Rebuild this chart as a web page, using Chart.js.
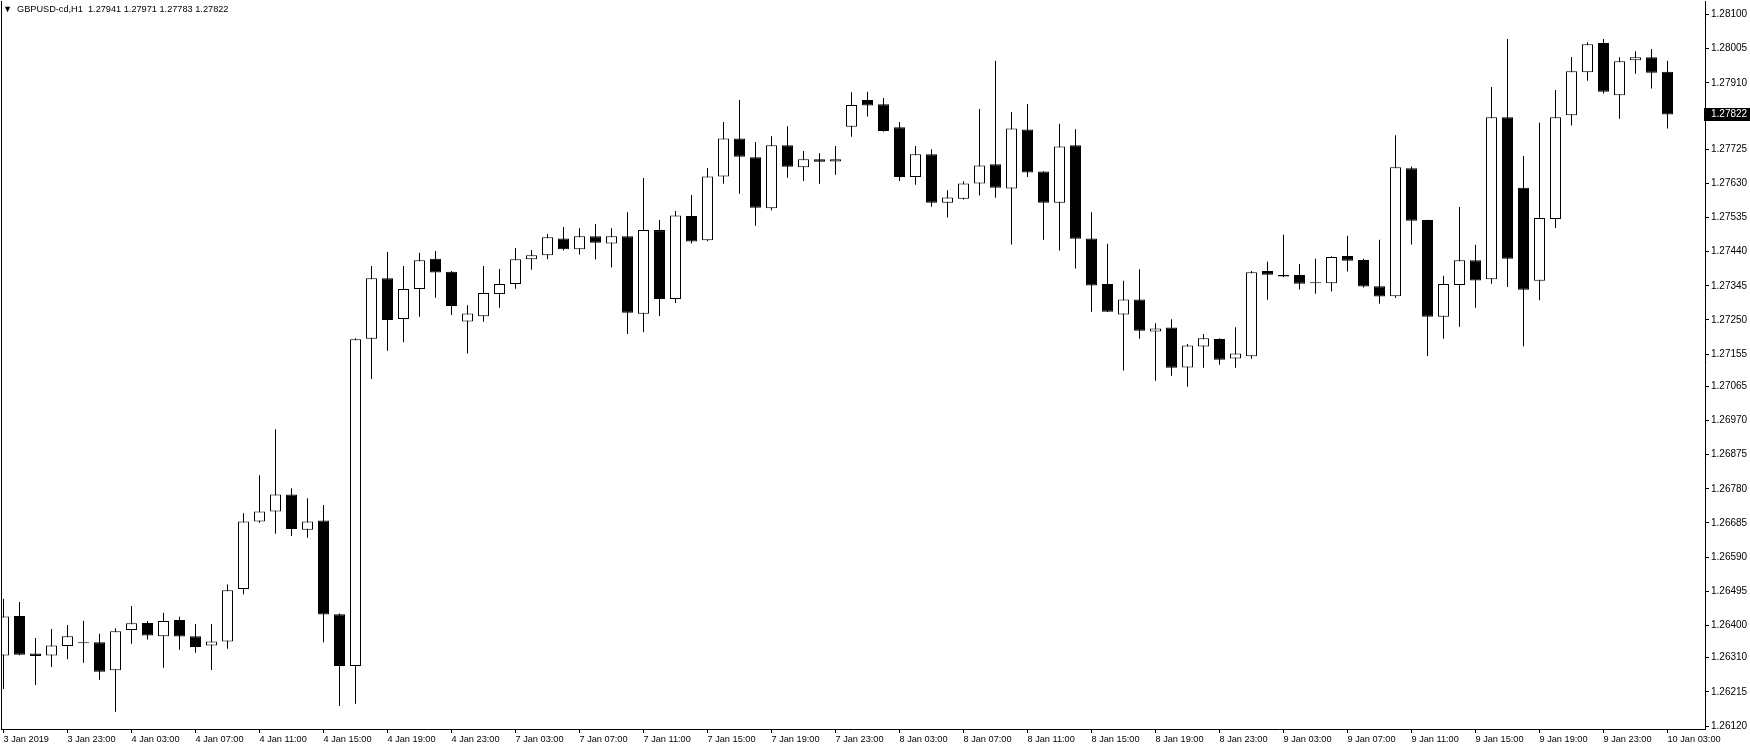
<!DOCTYPE html>
<html>
<head>
<meta charset="utf-8">
<script src="https://cdn.jsdelivr.net/npm/chart.js@4.4.0/dist/chart.umd.min.js"></script>
<style>
  html, body { margin: 0; padding: 0; background: #fff; }
</style>
</head>
<body>
<canvas id="chart" width="1750" height="750"></canvas>
<script>
// GBPUSD H1, 3 Jan 2019 19:00 .. 10 Jan 2019 03:00 (one value per hourly bar)
const symbol = 'GBPUSD-cd,H1';

const open = [
  1.26316, 1.26426, 1.26322, 1.26316, 1.26343, 1.26350, 1.26353, 1.26275, 1.26387, 1.26407,
  1.26370, 1.26415, 1.26370, 1.26344, 1.26355, 1.26501, 1.26689, 1.26717, 1.26764, 1.26666,
  1.26692, 1.26431, 1.26287, 1.27198, 1.27366, 1.27253, 1.27336, 1.27420, 1.27384, 1.27246,
  1.27260, 1.27322, 1.27350, 1.27419, 1.27430, 1.27477, 1.27447, 1.27483, 1.27463, 1.27483,
  1.27267, 1.27500, 1.27308, 1.27539, 1.27472, 1.27649, 1.27755, 1.27703, 1.27561, 1.27736,
  1.27675, 1.27697, 1.27691, 1.27788, 1.27862, 1.27850, 1.27786, 1.27648, 1.27711, 1.27576,
  1.27587, 1.27630, 1.27683, 1.27616, 1.27780, 1.27663, 1.27576, 1.27736, 1.27477, 1.27350,
  1.27265, 1.27307, 1.27218, 1.27229, 1.27118, 1.27176, 1.27197, 1.27143, 1.27149, 1.27386,
  1.27375, 1.27375, 1.27352, 1.27352, 1.27428, 1.27417, 1.27344, 1.27316, 1.27672, 1.27528,
  1.27259, 1.27347, 1.27416, 1.27363, 1.27814, 1.27618, 1.27359, 1.27531, 1.27820, 1.27939,
  1.28021, 1.27875, 1.27973, 1.27981, 1.27941
];
const high = [
  1.26474, 1.26465, 1.26365, 1.26390, 1.26401, 1.26413, 1.26377, 1.26392, 1.26454, 1.26412,
  1.26435, 1.26424, 1.26404, 1.26404, 1.26514, 1.26712, 1.26818, 1.26946, 1.26782, 1.26754,
  1.26735, 1.26433, 1.27199, 1.27400, 1.27439, 1.27400, 1.27437, 1.27442, 1.27386, 1.27291,
  1.27400, 1.27392, 1.27450, 1.27445, 1.27489, 1.27509, 1.27505, 1.27517, 1.27505, 1.27550,
  1.27645, 1.27528, 1.27553, 1.27598, 1.27673, 1.27801, 1.27862, 1.27745, 1.27761, 1.27789,
  1.27720, 1.27714, 1.27734, 1.27884, 1.27885, 1.27868, 1.27801, 1.27734, 1.27725, 1.27611,
  1.27636, 1.27837, 1.27971, 1.27829, 1.27851, 1.27664, 1.27796, 1.27781, 1.27550, 1.27462,
  1.27359, 1.27391, 1.27241, 1.27252, 1.27183, 1.27211, 1.27199, 1.27230, 1.27386, 1.27412,
  1.27487, 1.27406, 1.27420, 1.27427, 1.27484, 1.27420, 1.27473, 1.27764, 1.27677, 1.27529,
  1.27373, 1.27564, 1.27459, 1.27898, 1.28032, 1.27706, 1.27799, 1.27890, 1.27982, 1.28023,
  1.28032, 1.27981, 1.27998, 1.28004, 1.27971
];
const low = [
  1.26223, 1.26317, 1.26234, 1.26284, 1.26306, 1.26296, 1.26249, 1.26160, 1.26349, 1.26361,
  1.26282, 1.26332, 1.26324, 1.26276, 1.26335, 1.26487, 1.26686, 1.26655, 1.26649, 1.26644,
  1.26353, 1.26176, 1.26182, 1.27086, 1.27164, 1.27188, 1.27259, 1.27312, 1.27264, 1.27157,
  1.27245, 1.27284, 1.27337, 1.27390, 1.27419, 1.27443, 1.27432, 1.27418, 1.27396, 1.27211,
  1.27216, 1.27261, 1.27297, 1.27463, 1.27469, 1.27629, 1.27601, 1.27512, 1.27555, 1.27646,
  1.27637, 1.27629, 1.27654, 1.27760, 1.27816, 1.27774, 1.27637, 1.27626, 1.27565, 1.27535,
  1.27585, 1.27596, 1.27590, 1.27460, 1.27648, 1.27473, 1.27443, 1.27393, 1.27273, 1.27272,
  1.27109, 1.27198, 1.27081, 1.27095, 1.27064, 1.27117, 1.27125, 1.27117, 1.27142, 1.27306,
  1.27369, 1.27335, 1.27323, 1.27329, 1.27385, 1.27340, 1.27295, 1.27311, 1.27460, 1.27150,
  1.27198, 1.27231, 1.27284, 1.27351, 1.27342, 1.27177, 1.27305, 1.27506, 1.27791, 1.27916,
  1.27880, 1.27810, 1.27935, 1.27894, 1.27783
];
const close = [
  1.26425, 1.26318, 1.26315, 1.26344, 1.26370, 1.26350, 1.26271, 1.26384, 1.26406, 1.26372,
  1.26412, 1.26369, 1.26340, 1.26355, 1.26498, 1.26689, 1.26717, 1.26764, 1.26668, 1.26689,
  1.26430, 1.26287, 1.27196, 1.27366, 1.27250, 1.27336, 1.27416, 1.27382, 1.27289, 1.27268,
  1.27325, 1.27350, 1.27419, 1.27430, 1.27480, 1.27447, 1.27483, 1.27465, 1.27483, 1.27270,
  1.27500, 1.27308, 1.27541, 1.27468, 1.27649, 1.27755, 1.27704, 1.27562, 1.27736, 1.27676,
  1.27697, 1.27690, 1.27697, 1.27848, 1.27847, 1.27776, 1.27648, 1.27711, 1.27576, 1.27591,
  1.27630, 1.27680, 1.27618, 1.27783, 1.27660, 1.27576, 1.27733, 1.27476, 1.27346, 1.27273,
  1.27307, 1.27220, 1.27226, 1.27117, 1.27179, 1.27199, 1.27139, 1.27157, 1.27383, 1.27376,
  1.27371, 1.27351, 1.27352, 1.27425, 1.27415, 1.27343, 1.27315, 1.27675, 1.27526, 1.27259,
  1.27350, 1.27416, 1.27360, 1.27814, 1.27420, 1.27334, 1.27534, 1.27814, 1.27942, 1.28017,
  1.27885, 1.27970, 1.27981, 1.27938, 1.27822
];

// one label every 4 bars
const timeLabels = [
  '3 Jan 2019', '3 Jan 23:00', '4 Jan 03:00', '4 Jan 07:00', '4 Jan 11:00', '4 Jan 15:00',
  '4 Jan 19:00', '4 Jan 23:00', '7 Jan 03:00', '7 Jan 07:00', '7 Jan 11:00', '7 Jan 15:00',
  '7 Jan 19:00', '7 Jan 23:00', '8 Jan 03:00', '8 Jan 07:00', '8 Jan 11:00', '8 Jan 15:00',
  '8 Jan 19:00', '8 Jan 23:00', '9 Jan 03:00', '9 Jan 07:00', '9 Jan 11:00', '9 Jan 15:00',
  '9 Jan 19:00', '9 Jan 23:00', '10 Jan 03:00'
];
const labelStep = 4;

const priceTicks = [
  1.28100, 1.28005, 1.27910, 1.27725, 1.27630, 1.27535, 1.27440, 1.27345, 1.27250, 1.27155,
  1.27065, 1.26970, 1.26875, 1.26780, 1.26685, 1.26590, 1.26495, 1.26400, 1.26310, 1.26215,
  1.26120
];

const FAMILY = "'Liberation Sans', Arial, sans-serif";
const priceFont = { family: FAMILY, size: 10 };
const timeFont = { family: FAMILY, size: 9.2 };
const last = open.length - 1;

const bull = open.map((o, i) => close[i] > o);

// frame, symbol header and the current price tag
const terminalDecor = {
  id: 'terminalDecor',
  afterDraw(chart) {
    const { ctx, chartArea: a } = chart;
    const yScale = chart.scales.y;
    ctx.save();
    ctx.strokeStyle = '#000';
    ctx.lineWidth = 1;
    ctx.beginPath();
    ctx.moveTo(a.left + 0.5, a.top);
    ctx.lineTo(a.left + 0.5, a.bottom);
    ctx.stroke();

    ctx.textBaseline = 'middle';
    ctx.fillStyle = '#000';
    ctx.font = `${timeFont.size}px ${FAMILY}`;
    ctx.fillText('\u25BC', 3, 9);
    const hdr = [open[last], high[last], low[last], close[last]].map(v => v.toFixed(5)).join(' ');
    ctx.fillText(symbol + '  ' + hdr, 17, 9);

    const y = Math.round(yScale.getPixelForValue(close[last]));
    ctx.fillRect(a.right - 1, y - 6, 46, 13);
    ctx.fillStyle = '#fff';
    ctx.font = `${priceFont.size}px ${FAMILY}`;
    ctx.fillText(close[last].toFixed(5), a.right + 6, y + 0.5);
    ctx.restore();
  }
};

new Chart(document.getElementById('chart'), {
  type: 'bar',
  data: {
    datasets: [
      {
        label: 'High-Low',
        data: open.map((_, i) => ({ x: i, y: [low[i], high[i]] })),
        backgroundColor: '#000',
        barThickness: 1,
        grouped: false,
        inflateAmount: 0,
        order: 2
      },
      {
        label: 'Open-Close',
        data: open.map((o, i) => ({ x: i, y: [o, close[i]] })),
        backgroundColor: bull.map(b => b ? '#fff' : '#000'),
        borderColor: '#000',
        borderWidth: 1,
        borderSkipped: false,
        minBarLength: 1,
        barThickness: 11,
        grouped: false,
        inflateAmount: 0,
        order: 1
      }
    ]
  },
  options: {
    responsive: false,
    animation: false,
    devicePixelRatio: 1,
    layout: { padding: { left: 1, top: 1, right: 0, bottom: 0 } },
    plugins: {
      legend: { display: false },
      tooltip: { enabled: false }
    },
    scales: {
      x: {
        type: 'linear',
        position: 'bottom',
        offset: false,
        min: -0.15625,
        max: 106.34375,
        afterFit: s => { s.height = 21; s.paddingLeft = 0; s.paddingRight = 0; },
        afterBuildTicks: s => { s.ticks = timeLabels.map((_, k) => ({ value: k * labelStep })); },
        grid: { offset: false, drawOnChartArea: false, drawTicks: true, tickLength: 4, color: '#000' },
        border: { display: true, color: '#000' },
        ticks: {
          autoSkip: false,
          maxRotation: 0,
          align: 'start',
          padding: 1,
          color: '#000',
          font: timeFont,
          callback: v => timeLabels[Math.round(v / labelStep)]
        }
      },
      y: {
        type: 'linear',
        position: 'right',
        min: 1.261117,
        max: 1.281376,
        afterFit: s => { s.width = 45; s.paddingTop = 0; s.paddingBottom = 0; },
        afterBuildTicks: s => { s.ticks = priceTicks.map(v => ({ value: v })); },
        grid: { drawOnChartArea: false, drawTicks: true, tickLength: 4, color: '#000' },
        border: { display: true, color: '#000' },
        ticks: {
          padding: 2,
          color: '#000',
          font: priceFont,
          callback: v => v.toFixed(5)
        }
      }
    }
  },
  plugins: [terminalDecor]
});
</script>
</body>
</html>
